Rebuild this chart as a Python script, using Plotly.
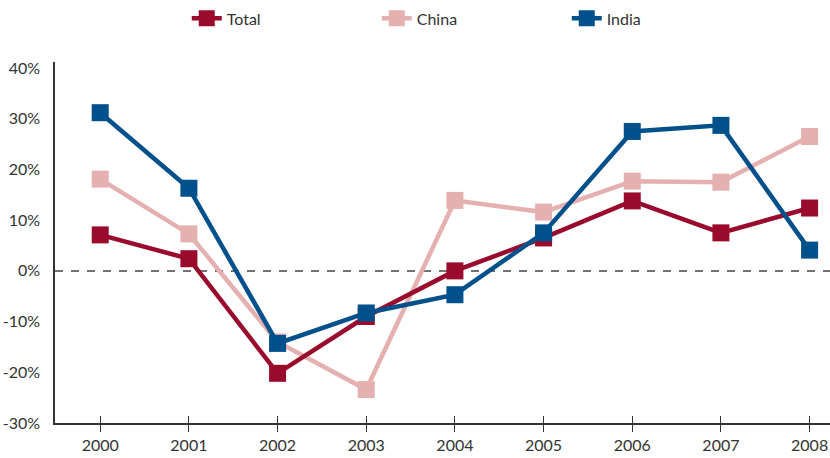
import plotly.graph_objects as go

years = [2000, 2001, 2002, 2003, 2004, 2005, 2006, 2007, 2008]
total = [7.1, 2.4, -20.2, -9.0, 0.0, 6.5, 13.8, 7.5, 12.4]
china = [18.1, 7.3, -14.0, -23.4, 13.9, 11.6, 17.7, 17.5, 26.5]
india = [31.2, 16.3, -14.3, -8.3, -4.7, 7.5, 27.5, 28.7, 4.1]

series = [
    ("Total", total, "#9a0a2c"),
    ("China", china, "#e5b0b0"),
    ("India", india, "#00508c"),
]

FONT = "Lato, 'Noto Sans', sans-serif"

fig = go.Figure()
# pink drawn under the others, matching overlap order
for name, vals, color in [series[1], series[0], series[2]]:
    fig.add_trace(go.Scatter(
        x=years, y=vals, name=name, mode="lines+markers",
        line=dict(color=color, width=4.5),
        marker=dict(symbol="square", size=17, color=color),
    ))

# invisible trace on the overlay axis so inside ticks are drawn too
fig.add_trace(go.Scatter(x=years, y=[None] * len(years), xaxis="x2",
                         showlegend=False, hoverinfo="skip"))

xr = [1999.49, 2008.23]
fig.update_layout(
    width=830, height=458,
    margin=dict(l=55, r=0, t=62, b=35),
    paper_bgcolor="white", plot_bgcolor="white",
    font=dict(family=FONT, size=16, color="#333333"),
    showlegend=True,
    legend=dict(
        orientation="h", x=0.17, xanchor="left", y=0.997, yanchor="top",
        yref="container", traceorder="normal",
        entrywidth=145, entrywidthmode="pixels",
        font=dict(size=16, color="#333333"),
    ),
    xaxis=dict(
        range=xr, tickmode="array", tickvals=years,
        ticktext=[str(y) for y in years],
        showgrid=False, zeroline=False,
        showline=True, linecolor="#333333", linewidth=1.5,
        ticks="outside", ticklen=7, tickwidth=1.2, tickcolor="#333333",
    ),
    xaxis2=dict(
        range=xr, overlaying="x", tickmode="array", tickvals=years,
        showticklabels=False, showgrid=False, zeroline=False,
        ticks="inside", ticklen=7, tickwidth=1.2, tickcolor="#333333",
        side="bottom",
    ),
    yaxis=dict(
        range=[-30, 41.2], tickmode="array",
        tickvals=[-30, -20, -10, 0, 10, 20, 30, 40],
        ticktext=["-30%", "-20%", "-10%", "0%", "10%", "20%", "30%", "40%"],
        showgrid=False, zeroline=False,
        showline=True, linecolor="#333333", linewidth=1.5,
        ticks="", ticklabelstandoff=10,
    ),
    shapes=[dict(
        type="line", xref="paper", x0=0, x1=1, yref="y", y0=0, y1=0,
        line=dict(color="#444444", width=1.5, dash="8px,8px"), layer="below",
    )],
)

# legend order: Total, China, India
fig.data[0].legendrank = 2
fig.data[1].legendrank = 1
fig.data[2].legendrank = 3

fig.write_html("out.html")
